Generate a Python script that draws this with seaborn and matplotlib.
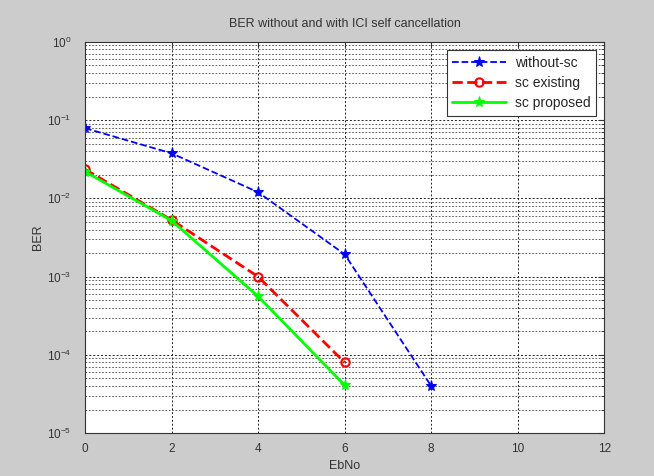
import pandas as pd
import seaborn as sns
import matplotlib.pyplot as plt
from matplotlib.ticker import LogLocator, NullFormatter

## BER curves
ebno_without = [0, 2, 4, 6, 8]
ber_without = [0.079, 0.0377, 0.012, 0.00193, 4.0e-5]
ebno_sc = [0, 2, 4, 6]
ber_existing = [0.0235, 0.0053, 0.00100, 8.0e-5]
ber_proposed = [0.0220, 0.0052, 5.6e-4, 4.1e-5]

series_names = ["without-sc", "sc existing", "sc proposed"]


def main():
    sns.set_style("white")
    plt.rcParams['font.family'] = ['Liberation Sans', 'DejaVu Sans']

    fig = plt.figure(figsize=(6.54, 4.76), dpi=100, facecolor='#cccccc')
    ax = fig.add_axes([0.130, 0.090, 0.794, 0.822])
    ax.set_facecolor('white')

    df_w = pd.DataFrame({'EbNo': ebno_without, 'BER': ber_without})
    df_e = pd.DataFrame({'EbNo': ebno_sc, 'BER': ber_existing})
    df_p = pd.DataFrame({'EbNo': ebno_sc, 'BER': ber_proposed})

    sns.lineplot(data=df_w, x='EbNo', y='BER', ax=ax, color='#0000ff', linestyle='--',
                 linewidth=1.3, marker='*', markersize=8, markeredgecolor='#0000ff',
                 label=series_names[0])
    sns.lineplot(data=df_e, x='EbNo', y='BER', ax=ax, color='#ff0000', linestyle='--',
                 linewidth=2, marker='o', markersize=6, markerfacecolor='none',
                 markeredgecolor='#ff0000', markeredgewidth=1.5, label=series_names[1])
    sns.lineplot(data=df_p, x='EbNo', y='BER', ax=ax, color='#00ff00', linestyle='-',
                 linewidth=2, marker='*', markersize=8, markeredgecolor='#00ff00',
                 label=series_names[2])

    ax.set_yscale('log')
    ax.set_xlim(0, 12)
    ax.set_ylim(1e-5, 1)
    ax.set_xticks(range(0, 13, 2))
    ax.yaxis.set_major_locator(LogLocator(base=10, numticks=10))
    ax.yaxis.set_minor_locator(LogLocator(base=10, subs=range(2, 10), numticks=10))
    ax.yaxis.set_minor_formatter(NullFormatter())

    ax.grid(True, which='major', color='#222222', linestyle=(0, (2, 2)), linewidth=0.7)
    ax.grid(True, which='minor', axis='y', color='#444444', linestyle=(0, (2, 2)), linewidth=0.6)
    ax.tick_params(direction='in', which='both', top=True, right=True, labelsize=8.5,
                   colors='#333333', length=4)
    ax.tick_params(axis='x', pad=7)
    ax.tick_params(axis='y', pad=10)
    ax.tick_params(which='minor', length=2)
    for s in ax.spines.values():
        s.set_color('#333333')
        s.set_linewidth(0.8)

    ax.set_title('BER without and with ICI self cancellation', fontsize=9, color='#333333', pad=11)
    ax.set_xlabel('EbNo', fontsize=9, color='#333333', labelpad=4)
    ax.set_ylabel('BER', fontsize=9, color='#333333', labelpad=2)

    leg = ax.legend(loc='upper right', fontsize=10, fancybox=False, framealpha=1,
                    edgecolor='#333333', handlelength=3.9, borderaxespad=0.6,
                    labelspacing=0.45, handletextpad=0.6)
    leg.get_frame().set_linewidth(0.8)

    fig.savefig('out.png', dpi=100, facecolor=fig.get_facecolor())


if __name__ == '__main__':
    main()
